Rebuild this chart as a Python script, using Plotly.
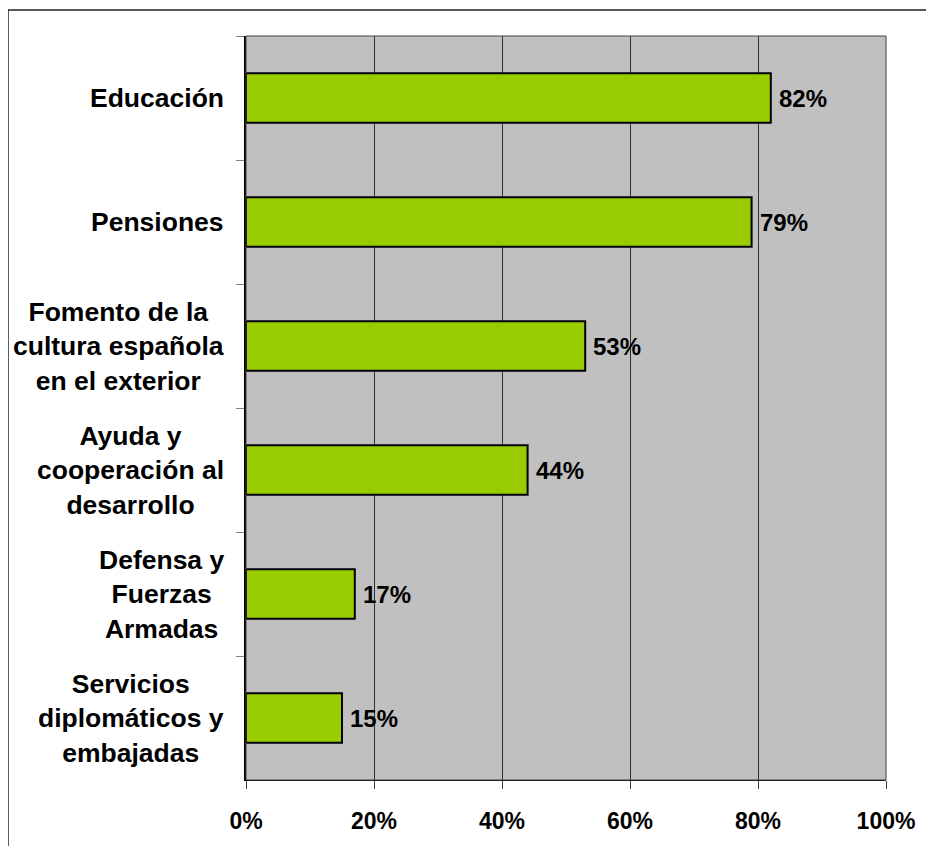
import plotly.graph_objects as go

categories = [
    "Educación",
    "Pensiones",
    "Fomento de la<br>cultura española<br>en el exterior",
    "Ayuda y<br>cooperación al<br>desarrollo",
    "Defensa y<br>Fuerzas<br>Armadas",
    "Servicios<br>diplomáticos y<br>embajadas",
]
values = [82, 79, 53, 44, 17, 15]
tick_values = [0, 20, 40, 60, 80, 100]
tick_labels = ["0%", "20%", "40%", "60%", "80%", "100%"]

FONT = "Liberation Sans, Arial, sans-serif"

fig = go.Figure()
fig.add_trace(go.Bar(
    x=values, y=categories, orientation="h", width=0.4,
    marker=dict(color="#99CC00", line=dict(color="#000000", width=2)),
    hoverinfo="skip",
))

annotations = []
for c, v in zip(categories, values):
    annotations.append(dict(
        x=v, y=c, xref="x", yref="y", text=f"{v}%", showarrow=False,
        xanchor="left", yanchor="middle", xshift=6,
        font=dict(family=FONT, size=24, color="#000000", weight="bold"),
    ))
    annotations.append(dict(
        x=0, y=c, xref="paper", yref="y", text=c, showarrow=False,
        xanchor="right", yanchor="middle", align="center", xshift=-20,
        font=dict(family=FONT, size=26.5, color="#000000", weight="bold"),
    ))

fig.update_layout(
    width=926, height=838,
    margin=dict(l=238, r=48, t=28, b=62),
    paper_bgcolor="#FFFFFF", plot_bgcolor="#C0C0C0",
    showlegend=False, bargap=0.6,
    annotations=annotations,
    shapes=[
        dict(type="rect", xref="paper", yref="paper",
             x0=-0.3719, x1=1.2, y0=-0.2, y1=1.0348,
             line=dict(color="#222222", width=1.5), layer="below"),
        dict(type="rect", xref="paper", yref="paper",
             x0=0, x1=1, y0=0, y1=1,
             line=dict(color="#404040", width=1), layer="above"),
    ],
    xaxis=dict(
        range=[0, 100], tickvals=tick_values, ticktext=tick_labels,
        showgrid=True, gridcolor="#303030", gridwidth=1,
        ticks="outside", ticklen=8, tickcolor="#404040", tickwidth=1,
        showline=True, linecolor="#000000", linewidth=1,
        tickfont=dict(family=FONT, size=23, color="#000000", weight="bold"),
        ticklabelstandoff=12, zeroline=False, fixedrange=True,
    ),
    yaxis=dict(
        categoryorder="array", categoryarray=categories, autorange="reversed",
        showticklabels=False, ticks="outside", ticklen=8, tickcolor="#808080",
        tickson="boundaries", showgrid=False,
        showline=True, linecolor="#000000", linewidth=1.5, fixedrange=True,
    ),
)

fig.write_html("out.html")
